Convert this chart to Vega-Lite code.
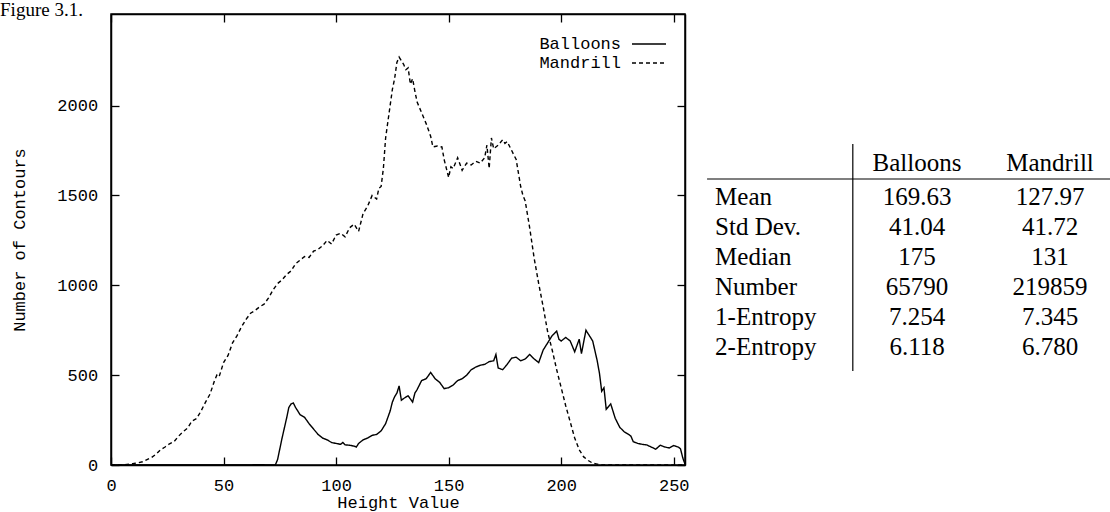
{
  "$schema": "https://vega.github.io/schema/vega-lite/v6.json",
  "background": "white",
  "padding": {"left": 0, "top": 0, "right": 0, "bottom": 0},
  "title": {"text": "Figure 3.1.", "anchor": "start", "frame": "bounds", "font": "Liberation Serif", "fontSize": 19, "fontWeight": "normal", "color": "black", "dx": -10, "offset": -22, "baseline": "alphabetic"},
  "config": {
    "view": {"stroke": "black", "strokeWidth": 1.5},
    "axis": {"domainColor": "black", "domainWidth": 1.5, "tickColor": "black", "tickWidth": 1.3, "tickSize": -8, "grid": false, "labelFont": "Liberation Mono", "labelFontSize": 17, "labelColor": "black", "titleFont": "Liberation Mono", "titleFontSize": 17, "titleFontWeight": "normal", "titleColor": "black", "labelFlush": false, "labelOverlap": false, "labelBound": false}
  },
  "datasets": {
    "curves": [
      {"h":0,"n":0,"s":"Mandrill"},{"h":4,"n":0,"s":"Mandrill"},{"h":6,"n":2,"s":"Mandrill"},{"h":8,"n":5,"s":"Mandrill"},{"h":10,"n":8,"s":"Mandrill"},{"h":12,"n":12,"s":"Mandrill"},{"h":14,"n":18,"s":"Mandrill"},{"h":16,"n":30,"s":"Mandrill"},{"h":18,"n":42,"s":"Mandrill"},{"h":20,"n":60,"s":"Mandrill"},{"h":22,"n":85,"s":"Mandrill"},{"h":24,"n":100,"s":"Mandrill"},{"h":26,"n":118,"s":"Mandrill"},{"h":28,"n":130,"s":"Mandrill"},{"h":30,"n":160,"s":"Mandrill"},{"h":32,"n":185,"s":"Mandrill"},{"h":34,"n":205,"s":"Mandrill"},{"h":36,"n":245,"s":"Mandrill"},{"h":38,"n":258,"s":"Mandrill"},{"h":40,"n":300,"s":"Mandrill"},{"h":42,"n":350,"s":"Mandrill"},{"h":44,"n":395,"s":"Mandrill"},{"h":46,"n":470,"s":"Mandrill"},{"h":47,"n":500,"s":"Mandrill"},{"h":48,"n":490,"s":"Mandrill"},{"h":50,"n":570,"s":"Mandrill"},{"h":52,"n":610,"s":"Mandrill"},{"h":54,"n":680,"s":"Mandrill"},{"h":56,"n":720,"s":"Mandrill"},{"h":58,"n":770,"s":"Mandrill"},{"h":60,"n":810,"s":"Mandrill"},{"h":62,"n":845,"s":"Mandrill"},{"h":64,"n":860,"s":"Mandrill"},{"h":66,"n":880,"s":"Mandrill"},{"h":68,"n":895,"s":"Mandrill"},{"h":70,"n":930,"s":"Mandrill"},{"h":72,"n":975,"s":"Mandrill"},{"h":74,"n":1010,"s":"Mandrill"},{"h":76,"n":1030,"s":"Mandrill"},{"h":78,"n":1060,"s":"Mandrill"},{"h":80,"n":1080,"s":"Mandrill"},{"h":82,"n":1120,"s":"Mandrill"},{"h":84,"n":1140,"s":"Mandrill"},{"h":86,"n":1160,"s":"Mandrill"},{"h":88,"n":1155,"s":"Mandrill"},{"h":90,"n":1190,"s":"Mandrill"},{"h":92,"n":1200,"s":"Mandrill"},{"h":94,"n":1220,"s":"Mandrill"},{"h":96,"n":1250,"s":"Mandrill"},{"h":98,"n":1230,"s":"Mandrill"},{"h":100,"n":1280,"s":"Mandrill"},{"h":102,"n":1290,"s":"Mandrill"},{"h":104,"n":1270,"s":"Mandrill"},{"h":106,"n":1320,"s":"Mandrill"},{"h":108,"n":1340,"s":"Mandrill"},{"h":110,"n":1300,"s":"Mandrill"},{"h":112,"n":1400,"s":"Mandrill"},{"h":114,"n":1440,"s":"Mandrill"},{"h":116,"n":1500,"s":"Mandrill"},{"h":118,"n":1480,"s":"Mandrill"},{"h":119,"n":1540,"s":"Mandrill"},{"h":120,"n":1550,"s":"Mandrill"},{"h":121,"n":1650,"s":"Mandrill"},{"h":122,"n":1820,"s":"Mandrill"},{"h":124,"n":2000,"s":"Mandrill"},{"h":125,"n":2090,"s":"Mandrill"},{"h":126,"n":2150,"s":"Mandrill"},{"h":127,"n":2240,"s":"Mandrill"},{"h":128,"n":2270,"s":"Mandrill"},{"h":129,"n":2250,"s":"Mandrill"},{"h":130,"n":2230,"s":"Mandrill"},{"h":131,"n":2200,"s":"Mandrill"},{"h":132,"n":2210,"s":"Mandrill"},{"h":133,"n":2120,"s":"Mandrill"},{"h":134,"n":2150,"s":"Mandrill"},{"h":135,"n":2080,"s":"Mandrill"},{"h":136,"n":2020,"s":"Mandrill"},{"h":138,"n":1960,"s":"Mandrill"},{"h":140,"n":1900,"s":"Mandrill"},{"h":142,"n":1830,"s":"Mandrill"},{"h":143,"n":1770,"s":"Mandrill"},{"h":145,"n":1775,"s":"Mandrill"},{"h":147,"n":1770,"s":"Mandrill"},{"h":148,"n":1700,"s":"Mandrill"},{"h":150,"n":1600,"s":"Mandrill"},{"h":151,"n":1660,"s":"Mandrill"},{"h":152,"n":1650,"s":"Mandrill"},{"h":154,"n":1710,"s":"Mandrill"},{"h":156,"n":1640,"s":"Mandrill"},{"h":158,"n":1680,"s":"Mandrill"},{"h":160,"n":1670,"s":"Mandrill"},{"h":162,"n":1690,"s":"Mandrill"},{"h":164,"n":1680,"s":"Mandrill"},{"h":166,"n":1710,"s":"Mandrill"},{"h":167,"n":1780,"s":"Mandrill"},{"h":168,"n":1650,"s":"Mandrill"},{"h":169,"n":1820,"s":"Mandrill"},{"h":170,"n":1760,"s":"Mandrill"},{"h":172,"n":1780,"s":"Mandrill"},{"h":174,"n":1810,"s":"Mandrill"},{"h":175,"n":1790,"s":"Mandrill"},{"h":176,"n":1800,"s":"Mandrill"},{"h":178,"n":1750,"s":"Mandrill"},{"h":180,"n":1700,"s":"Mandrill"},{"h":182,"n":1550,"s":"Mandrill"},{"h":183,"n":1500,"s":"Mandrill"},{"h":184,"n":1470,"s":"Mandrill"},{"h":186,"n":1320,"s":"Mandrill"},{"h":188,"n":1150,"s":"Mandrill"},{"h":190,"n":1010,"s":"Mandrill"},{"h":192,"n":880,"s":"Mandrill"},{"h":194,"n":740,"s":"Mandrill"},{"h":196,"n":640,"s":"Mandrill"},{"h":198,"n":530,"s":"Mandrill"},{"h":200,"n":430,"s":"Mandrill"},{"h":202,"n":330,"s":"Mandrill"},{"h":204,"n":240,"s":"Mandrill"},{"h":206,"n":150,"s":"Mandrill"},{"h":208,"n":85,"s":"Mandrill"},{"h":210,"n":45,"s":"Mandrill"},{"h":212,"n":25,"s":"Mandrill"},{"h":214,"n":10,"s":"Mandrill"},{"h":216,"n":5,"s":"Mandrill"},{"h":218,"n":0,"s":"Mandrill"},{"h":230,"n":0,"s":"Mandrill"},{"h":255,"n":0,"s":"Mandrill"},
      {"h":0,"n":0,"s":"Balloons"},{"h":60,"n":0,"s":"Balloons"},{"h":66,"n":2,"s":"Balloons"},{"h":70,"n":0,"s":"Balloons"},{"h":73,"n":0,"s":"Balloons"},{"h":74,"n":30,"s":"Balloons"},{"h":76,"n":150,"s":"Balloons"},{"h":78,"n":260,"s":"Balloons"},{"h":79,"n":320,"s":"Balloons"},{"h":80,"n":340,"s":"Balloons"},{"h":81,"n":345,"s":"Balloons"},{"h":82,"n":320,"s":"Balloons"},{"h":84,"n":280,"s":"Balloons"},{"h":86,"n":265,"s":"Balloons"},{"h":88,"n":230,"s":"Balloons"},{"h":90,"n":200,"s":"Balloons"},{"h":92,"n":170,"s":"Balloons"},{"h":94,"n":150,"s":"Balloons"},{"h":96,"n":140,"s":"Balloons"},{"h":98,"n":125,"s":"Balloons"},{"h":100,"n":120,"s":"Balloons"},{"h":102,"n":115,"s":"Balloons"},{"h":103,"n":125,"s":"Balloons"},{"h":104,"n":112,"s":"Balloons"},{"h":106,"n":110,"s":"Balloons"},{"h":108,"n":105,"s":"Balloons"},{"h":109,"n":100,"s":"Balloons"},{"h":110,"n":120,"s":"Balloons"},{"h":112,"n":140,"s":"Balloons"},{"h":114,"n":150,"s":"Balloons"},{"h":116,"n":165,"s":"Balloons"},{"h":118,"n":170,"s":"Balloons"},{"h":120,"n":190,"s":"Balloons"},{"h":122,"n":230,"s":"Balloons"},{"h":124,"n":300,"s":"Balloons"},{"h":125,"n":350,"s":"Balloons"},{"h":126,"n":380,"s":"Balloons"},{"h":127,"n":400,"s":"Balloons"},{"h":128,"n":440,"s":"Balloons"},{"h":129,"n":360,"s":"Balloons"},{"h":130,"n":370,"s":"Balloons"},{"h":132,"n":385,"s":"Balloons"},{"h":134,"n":350,"s":"Balloons"},{"h":135,"n":400,"s":"Balloons"},{"h":136,"n":420,"s":"Balloons"},{"h":138,"n":470,"s":"Balloons"},{"h":140,"n":480,"s":"Balloons"},{"h":142,"n":515,"s":"Balloons"},{"h":144,"n":480,"s":"Balloons"},{"h":146,"n":460,"s":"Balloons"},{"h":148,"n":425,"s":"Balloons"},{"h":150,"n":430,"s":"Balloons"},{"h":152,"n":445,"s":"Balloons"},{"h":154,"n":470,"s":"Balloons"},{"h":156,"n":480,"s":"Balloons"},{"h":158,"n":500,"s":"Balloons"},{"h":160,"n":530,"s":"Balloons"},{"h":162,"n":545,"s":"Balloons"},{"h":164,"n":555,"s":"Balloons"},{"h":166,"n":560,"s":"Balloons"},{"h":168,"n":575,"s":"Balloons"},{"h":170,"n":580,"s":"Balloons"},{"h":171,"n":615,"s":"Balloons"},{"h":172,"n":540,"s":"Balloons"},{"h":174,"n":530,"s":"Balloons"},{"h":176,"n":560,"s":"Balloons"},{"h":178,"n":595,"s":"Balloons"},{"h":180,"n":600,"s":"Balloons"},{"h":182,"n":580,"s":"Balloons"},{"h":184,"n":590,"s":"Balloons"},{"h":186,"n":615,"s":"Balloons"},{"h":188,"n":590,"s":"Balloons"},{"h":190,"n":570,"s":"Balloons"},{"h":192,"n":640,"s":"Balloons"},{"h":194,"n":680,"s":"Balloons"},{"h":196,"n":720,"s":"Balloons"},{"h":198,"n":745,"s":"Balloons"},{"h":199,"n":700,"s":"Balloons"},{"h":200,"n":690,"s":"Balloons"},{"h":202,"n":710,"s":"Balloons"},{"h":204,"n":690,"s":"Balloons"},{"h":206,"n":630,"s":"Balloons"},{"h":208,"n":700,"s":"Balloons"},{"h":209,"n":620,"s":"Balloons"},{"h":211,"n":750,"s":"Balloons"},{"h":212,"n":730,"s":"Balloons"},{"h":214,"n":690,"s":"Balloons"},{"h":216,"n":580,"s":"Balloons"},{"h":217,"n":510,"s":"Balloons"},{"h":218,"n":410,"s":"Balloons"},{"h":219,"n":430,"s":"Balloons"},{"h":220,"n":310,"s":"Balloons"},{"h":222,"n":340,"s":"Balloons"},{"h":224,"n":260,"s":"Balloons"},{"h":226,"n":210,"s":"Balloons"},{"h":228,"n":185,"s":"Balloons"},{"h":230,"n":170,"s":"Balloons"},{"h":231,"n":160,"s":"Balloons"},{"h":232,"n":130,"s":"Balloons"},{"h":234,"n":120,"s":"Balloons"},{"h":236,"n":115,"s":"Balloons"},{"h":238,"n":112,"s":"Balloons"},{"h":240,"n":100,"s":"Balloons"},{"h":242,"n":88,"s":"Balloons"},{"h":244,"n":110,"s":"Balloons"},{"h":246,"n":100,"s":"Balloons"},{"h":248,"n":95,"s":"Balloons"},{"h":250,"n":108,"s":"Balloons"},{"h":252,"n":100,"s":"Balloons"},{"h":253,"n":90,"s":"Balloons"},{"h":254,"n":40,"s":"Balloons"},{"h":255,"n":5,"s":"Balloons"}
    ],
    "tbl": [
      {"r":0,"col":1,"text":"Balloons"},{"r":0,"col":2,"text":"Mandrill"},
      {"r":1,"col":0,"text":"Mean"},{"r":1,"col":1,"text":"169.63"},{"r":1,"col":2,"text":"127.97"},
      {"r":2,"col":0,"text":"Std Dev."},{"r":2,"col":1,"text":"41.04"},{"r":2,"col":2,"text":"41.72"},
      {"r":3,"col":0,"text":"Median"},{"r":3,"col":1,"text":"175"},{"r":3,"col":2,"text":"131"},
      {"r":4,"col":0,"text":"Number"},{"r":4,"col":1,"text":"65790"},{"r":4,"col":2,"text":"219859"},
      {"r":5,"col":0,"text":"1-Entropy"},{"r":5,"col":1,"text":"7.254"},{"r":5,"col":2,"text":"7.345"},
      {"r":6,"col":0,"text":"2-Entropy"},{"r":6,"col":1,"text":"6.118"},{"r":6,"col":2,"text":"6.780"}
    ]
  },
  "spacing": 14,
  "hconcat": [
    {
      "width": 574,
      "height": 451,
      "data": {"name": "curves"},
      "layer": [
        {
          "mark": {"type": "line", "color": "black", "strokeWidth": 1.4},
          "encoding": {
            "x": {"field": "h", "type": "quantitative", "scale": {"domain": [0, 255], "nice": false, "zero": false},
                  "axis": {"orient": "bottom", "values": [0, 50, 100, 150, 200, 250], "format": "d", "title": "Height Value", "labelPadding": 20, "titlePadding": 1}},
            "y": {"field": "n", "type": "quantitative", "scale": {"domain": [0, 2510], "nice": false},
                  "axis": {"orient": "left", "values": [0, 500, 1000, 1500, 2000], "format": "d", "title": "Number of Contours", "labelPadding": 21.4, "titlePadding": 28}},
            "strokeDash": {"field": "s", "type": "nominal",
                  "scale": {"domain": ["Balloons", "Mandrill"], "range": [[1, 0], [4, 3]]},
                  "legend": {"orient": "none", "legendX": 527, "legendY": 19, "title": null, "labelAlign": "right", "labelOffset": -39, "symbolType": "M-1.7,0H1.7", "symbolSize": 400, "symbolStrokeColor": "black", "symbolFillColor": "transparent", "symbolStrokeWidth": 1.3, "labelFont": "Liberation Mono", "labelFontSize": 17, "labelColor": "black", "rowPadding": 0, "padding": 0}}
          }
        },
        {
          "mark": {"type": "line", "opacity": 0},
          "encoding": {
            "x": {"field": "h", "type": "quantitative", "axis": {"orient": "top", "values": [0, 50, 100, 150, 200, 250], "labels": false, "title": null}},
            "y": {"field": "n", "type": "quantitative", "axis": {"orient": "right", "values": [0, 500, 1000, 1500, 2000], "labels": false, "title": null}},
            "detail": {"field": "s", "type": "nominal"}
          }
        }
      ],
      "resolve": {"axis": {"x": "independent", "y": "independent"}}
    },
    {
      "width": 410,
      "height": 451,
      "view": {"stroke": null},
      "layer": [
        {
          "data": {"values": [{}]},
          "mark": {"type": "rule", "color": "black", "strokeWidth": 1.2},
          "encoding": {
            "x": {"datum": 0.517, "type": "quantitative", "scale": {"domain": [-0.602, 2.481], "nice": false, "zero": false}, "axis": null},
            "y": {"datum": -0.767, "type": "quantitative", "scale": {"domain": [-5.1, 9.933], "reverse": true, "nice": false, "zero": false}, "axis": null},
            "y2": {"datum": 6.8}
          }
        },
        {
          "data": {"values": [{}]},
          "mark": {"type": "rule", "color": "black", "strokeWidth": 1.2},
          "encoding": {
            "x": {"datum": -0.579, "type": "quantitative", "axis": null},
            "x2": {"datum": 2.481},
            "y": {"datum": 0.4, "type": "quantitative", "axis": null}
          }
        },
        {
          "data": {"name": "tbl"},
          "transform": [{"filter": "datum.col == 0"}],
          "mark": {"type": "text", "align": "left", "baseline": "middle", "dx": -69, "font": "Liberation Serif", "fontSize": 25, "color": "black"},
          "encoding": {
            "x": {"field": "col", "type": "quantitative", "axis": null},
            "y": {"field": "r", "type": "quantitative", "axis": null},
            "text": {"field": "text"}
          }
        },
        {
          "data": {"name": "tbl"},
          "transform": [{"filter": "datum.col > 0 && datum.r > 0"}],
          "mark": {"type": "text", "align": "center", "baseline": "middle", "font": "Liberation Serif", "fontSize": 25, "color": "black"},
          "encoding": {
            "x": {"field": "col", "type": "quantitative", "axis": null},
            "y": {"field": "r", "type": "quantitative", "axis": null},
            "text": {"field": "text"}
          }
        },
        {
          "data": {"name": "tbl"},
          "transform": [{"filter": "datum.r == 0"}],
          "mark": {"type": "text", "align": "center", "baseline": "middle", "dy": -4, "font": "Liberation Serif", "fontSize": 25, "color": "black"},
          "encoding": {
            "x": {"field": "col", "type": "quantitative", "axis": null},
            "y": {"field": "r", "type": "quantitative", "axis": null},
            "text": {"field": "text"}
          }
        }
      ]
    }
  ]
}
